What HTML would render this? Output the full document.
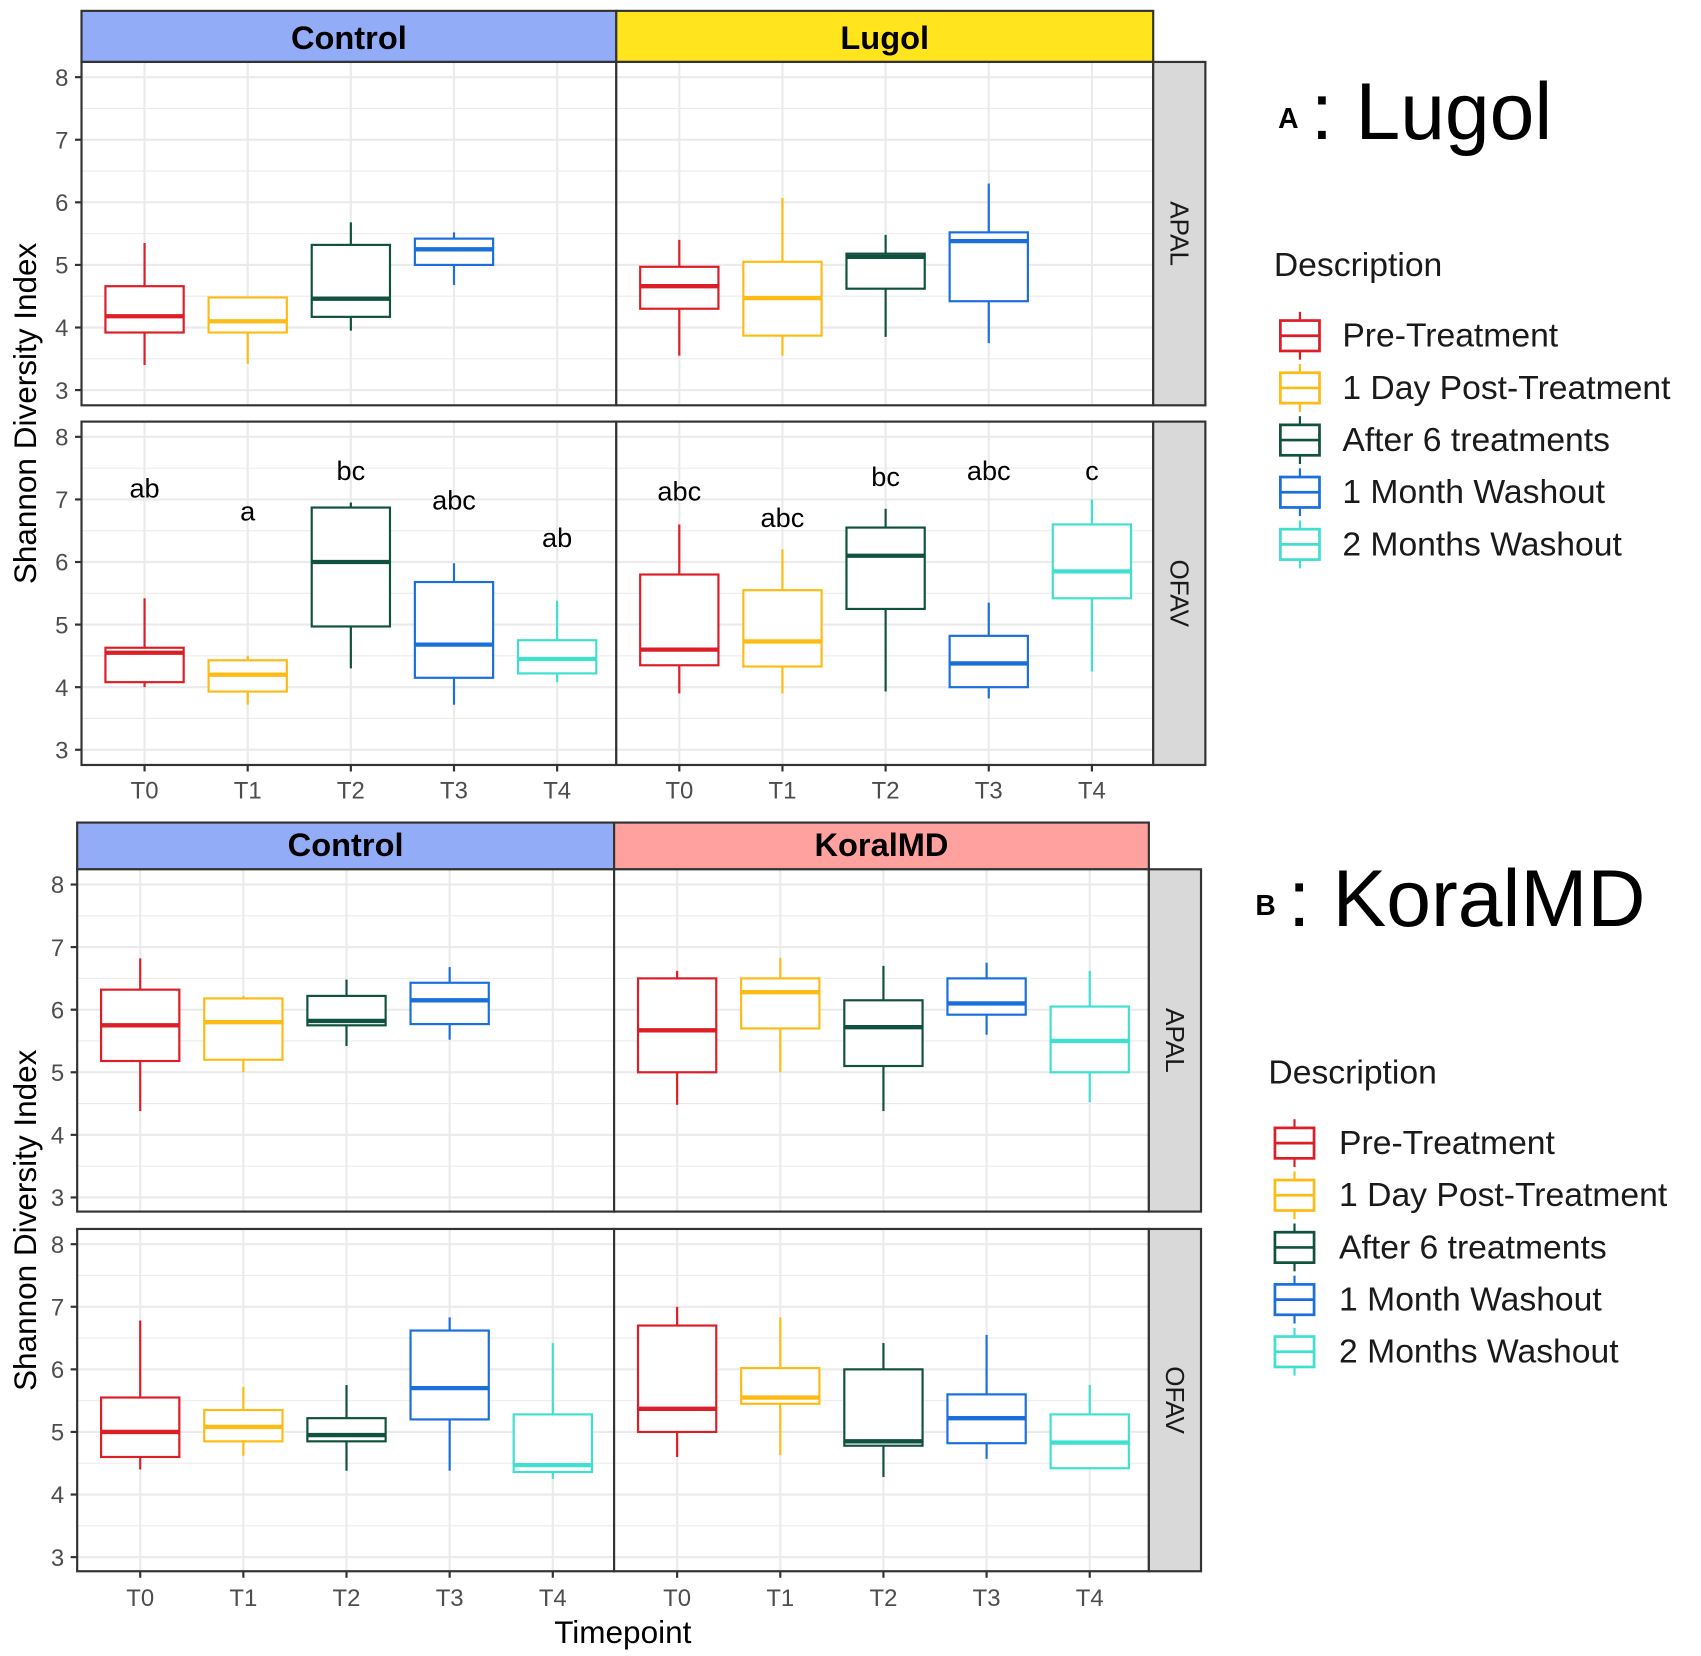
<!DOCTYPE html>
<html><head><meta charset="utf-8"><style>
html,body{margin:0;padding:0;background:#fff;width:1701px;height:1656px;overflow:hidden}
svg{display:block}
text{font-family:"Liberation Sans",sans-serif}
</style></head><body>
<svg id="chart" width="1701" height="1656" viewBox="0 0 1565 1524" preserveAspectRatio="none" xmlns="http://www.w3.org/2000/svg"></svg>
<script>
// ---- data ----
const timepoints = ["T0","T1","T2","T3","T4"];
const seriesNames = ["Pre-Treatment","1 Day Post-Treatment","After 6 treatments","1 Month Washout","2 Months Washout"];
const colors = ["#dc1e26","#fdbb16","#11513f","#1a6fdb","#40e0cf"];
const yTicks = [3,4,5,6,7,8];
// each box: [min, q1, median, q3, max], null = no data
const aApalControl = [[3.4,3.92,4.18,4.66,5.35],[3.42,3.92,4.1,4.48,4.48],[3.95,4.17,4.46,5.32,5.68],[4.68,5.0,5.25,5.42,5.52],null];
const aApalLugol   = [[3.55,4.3,4.66,4.97,5.4],[3.55,3.87,4.47,5.05,6.07],[3.85,4.62,5.13,5.18,5.48],[3.75,4.42,5.38,5.52,6.3],null];
const aOfavControl = [[4.0,4.08,4.55,4.63,5.42],[3.72,3.93,4.2,4.43,4.5],[4.3,4.97,6.0,6.87,6.95],[3.72,4.15,4.68,5.68,5.98],[4.08,4.22,4.45,4.75,5.38]];
const aOfavLugol   = [[3.9,4.35,4.6,5.8,6.6],[3.9,4.33,4.73,5.55,6.2],[3.93,5.25,6.1,6.55,6.85],[3.82,4.0,4.38,4.82,5.35],[4.25,5.42,5.85,6.6,7.0]];
const aOfavControlLetters = ["ab","a","bc","abc","ab"];
const aOfavControlLetterY = [7.17,6.8,7.45,6.98,6.38];
const aOfavLugolLetters = ["abc","abc","bc","abc","c"];
const aOfavLugolLetterY = [7.12,6.7,7.35,7.45,7.45];
const bApalControl = [[4.38,5.18,5.75,6.32,6.82],[5.0,5.2,5.8,6.18,6.22],[5.42,5.75,5.82,6.22,6.48],[5.52,5.77,6.15,6.43,6.68],null];
const bApalKoral   = [[4.48,5.0,5.67,6.5,6.62],[5.0,5.7,6.28,6.5,6.83],[4.38,5.1,5.72,6.15,6.7],[5.6,5.92,6.1,6.5,6.75],[4.52,5.0,5.5,6.05,6.62]];
const bOfavControl = [[4.4,4.6,5.0,5.55,6.78],[4.62,4.85,5.08,5.35,5.72],[4.38,4.85,4.95,5.22,5.75],[4.38,5.2,5.7,6.62,6.83],[4.25,4.36,4.47,5.28,6.42]];
const bOfavKoral   = [[4.6,5.0,5.37,6.7,7.0],[4.63,5.45,5.55,6.02,6.83],[4.28,4.78,4.85,6.0,6.42],[4.57,4.82,5.22,5.6,6.55],[4.42,4.42,4.83,5.28,5.75]];

const NS="http://www.w3.org/2000/svg";
const svg=document.getElementById('chart');
function mk(tag,attrs,parent,txt){const e=document.createElementNS(NS,tag);for(const k in attrs)e.setAttribute(k,attrs[k]);if(txt!==undefined)e.textContent=txt;(parent||svg).appendChild(e);return e;}

function panel(x0,x1,yTop,yBot,y8,boxes,name,letters,letterY){
  const g=mk('g',{});
  
  
  const ys=v=>y8+(8-v)*57.6;
  const xs=i=>x0+58+i*94.9;
  mk('rect',{x:x0,y:yTop,width:x1-x0,height:yBot-yTop,fill:'#fff'},g);
  for(let v=2.5;v<=8.5;v+=0.5){const y=ys(v);if(y<yTop||y>yBot)continue;
    mk('line',{x1:x0,x2:x1,y1:y,y2:y,stroke:'#ebebeb','stroke-width':v%1===0?2:1},g);}
  timepoints.forEach((t,i)=>mk('line',{x1:xs(i),x2:xs(i),y1:yTop,y2:yBot,stroke:'#ebebeb','stroke-width':2},g));
  boxes.forEach((b,i)=>{ if(!b)return;
    const bg=mk('g',{},g);
    
    
    const c=colors[i],x=xs(i),w=36;
    mk('line',{x1:x,x2:x,y1:ys(b[4]),y2:ys(b[3]),stroke:c,'stroke-width':2},bg);
    mk('line',{x1:x,x2:x,y1:ys(b[1]),y2:ys(b[0]),stroke:c,'stroke-width':2},bg);
    mk('rect',{x:x-w,y:ys(b[3]),width:2*w,height:Math.max(0,ys(b[1])-ys(b[3])),fill:'#fff',stroke:c,'stroke-width':2},bg);
    mk('line',{x1:x-w,x2:x+w,y1:ys(b[2]),y2:ys(b[2]),stroke:c,'stroke-width':4},bg);
  });
  if(letters) letters.forEach((l,i)=>{const t=mk('text',{x:xs(i),y:ys(letterY[i])+8,'font-size':25,'text-anchor':'middle',fill:'#000'},g,l);
    });
  mk('rect',{x:x0,y:yTop,width:x1-x0,height:yBot-yTop,fill:'none',stroke:'#333','stroke-width':2},g);
  return {ys};
}
function figure(o){
  const {left,mid,right,stripTop,stripBot,p1,p2,y81,y82,data,letters,stripNames,stripColors,xlabY}=o;
  [[left,mid],[mid,right]].forEach((r,k)=>{
    const s=mk('rect',{x:r[0],y:stripTop,width:r[1]-r[0],height:stripBot-stripTop,fill:stripColors[k],stroke:'#333','stroke-width':2});
    
    mk('text',{x:(r[0]+r[1])/2,y:stripBot-12,'font-size':30,'font-weight':'bold','text-anchor':'middle'},svg,stripNames[k]);
  });
  const rows=[[p1,y81,'APAL'],[p2,y82,'OFAV']];
  rows.forEach((row,ri)=>{
    const [yy,y8,sp]=row;
    const L=letters[ri]||[null,null,null,null];
    panel(left,mid,yy[0],yy[1],y8,data[ri*2],'panel-'+sp.toLowerCase()+'-'+stripNames[0].toLowerCase(),L[0],L[1]);
    panel(mid,right,yy[0],yy[1],y8,data[ri*2+1],'panel-'+sp.toLowerCase()+'-'+stripNames[1].toLowerCase(),L[2],L[3]);
    const rs=mk('rect',{x:right,y:yy[0],width:48,height:yy[1]-yy[0],fill:'#d9d9d9',stroke:'#333','stroke-width':2});
    
    const cy=(yy[0]+yy[1])/2;
    mk('text',{x:right+24,y:cy,'font-size':24,'text-anchor':'middle',transform:`rotate(90 ${right+24} ${cy})`,'dominant-baseline':'central',fill:'#1a1a1a'},svg,sp);
    yTicks.forEach(v=>{const y=y8+(8-v)*57.6;
      mk('line',{x1:left-6,x2:left,y1:y,y2:y,stroke:'#333','stroke-width':2});
      mk('text',{x:left-12,y:y+8,'font-size':22,'text-anchor':'end',fill:'#4d4d4d'},svg,v);});
  });
  [left,mid].forEach(x0=>timepoints.forEach((t,i)=>{const x=x0+58+i*94.9;
    mk('line',{x1:x,x2:x,y1:p2[1],y2:p2[1]+6,stroke:'#333','stroke-width':2});
    mk('text',{x:x,y:xlabY,'font-size':22,'text-anchor':'middle',fill:'#4d4d4d'},svg,t);}));
  const yc=(p1[0]+p2[1])/2;
  const yt=mk('text',{x:33,y:yc,'font-size':29,'text-anchor':'middle',transform:`rotate(-90 33 ${yc})`},svg,'Shannon Diversity Index');
  
}
figure({left:75,mid:567,right:1061,stripTop:10,stripBot:57,p1:[57,373],p2:[388,704],y81:71,y82:402,
  data:[aApalControl,aApalLugol,aOfavControl,aOfavLugol],
  letters:[null,[aOfavControlLetters,aOfavControlLetterY,aOfavLugolLetters,aOfavLugolLetterY]],
  stripNames:['Control','Lugol'],stripColors:['#93acf7','#ffe41e'],xlabY:735});
figure({left:71,mid:565,right:1057,stripTop:757,stripBot:800,p1:[800,1115],p2:[1131,1446],y81:814,y82:1145,
  data:[bApalControl,bApalKoral,bOfavControl,bOfavKoral],letters:[null,null],
  stripNames:['Control','KoralMD'],stripColors:['#93acf7','#ffa19e'],xlabY:1478});
const xt=mk('text',{x:573,y:1512,'font-size':29,'text-anchor':'middle'},svg,'Timepoint');


function legend(x,titleY,letter,title,descY,entryY0,keyX,textX){
  mk('text',{x:x,y:titleY,'font-size':26,'font-weight':'bold'},svg,letter);
  const tt=mk('text',{x:x+30,y:titleY+10,'font-size':74},svg,': '+title);
  
  mk('text',{x:keyX-6,y:descY+10,'font-size':31,fill:'#1a1a1a'},svg,'Description');
  seriesNames.forEach((n,i)=>{const y=entryY0+i*48,c=colors[i];
    const g=mk('g',{});
    
    
    mk('line',{x1:keyX+18,x2:keyX+18,y1:y-22,y2:y+22,stroke:c,'stroke-width':2},g);
    mk('rect',{x:keyX,y:y-14,width:36,height:28,fill:'#fff',stroke:c,'stroke-width':2.5},g);
    mk('line',{x1:keyX,x2:keyX+36,y1:y,y2:y,stroke:c,'stroke-width':2.5},g);
    mk('text',{x:textX,y:y+10,'font-size':31,fill:'#1a1a1a'},g,n);});
}
legend(1176,118,'A','Lugol',244,309,1178,1235);
legend(1155,842,'B','KoralMD',987,1052,1173,1232);
</script>
</body></html>
